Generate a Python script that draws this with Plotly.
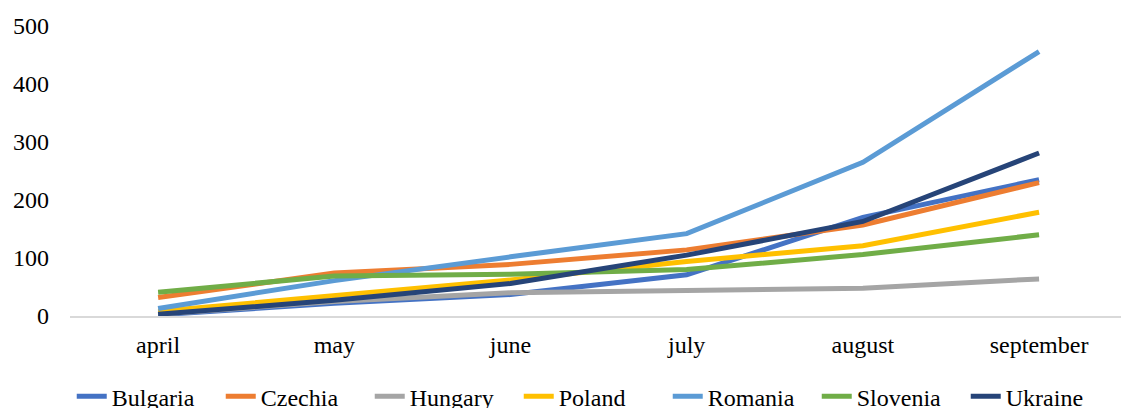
import plotly.graph_objects as go

months = ["april", "may", "june", "july", "august", "september"]
bulgaria = [2, 22, 37, 71, 170, 235]
czechia = [32, 74, 89, 114, 157, 230]
hungary = [3, 25, 40, 43, 48, 64]
poland = [8, 34, 62, 94, 121, 179]
romania = [13, 61, 102, 142, 265, 456]
slovenia = [41, 69, 72, 80, 106, 140]
ukraine = [3, 27, 56, 105, 163, 281]

series = [
    ("Bulgaria", bulgaria, "#4472C4"),
    ("Czechia", czechia, "#ED7D31"),
    ("Hungary", hungary, "#A5A5A5"),
    ("Poland", poland, "#FFC000"),
    ("Romania", romania, "#5B9BD5"),
    ("Slovenia", slovenia, "#70AD47"),
    ("Ukraine", ukraine, "#264478"),
]

fig = go.Figure()
for name, vals, col in series:
    fig.add_trace(go.Scatter(x=months, y=vals, name=name, mode="lines",
                             line=dict(color=col, width=5)))

SERIF = "Liberation Serif"
FS = 24
fig.update_layout(
    width=1121, height=408,
    margin=dict(l=70, r=0, t=26, b=92, autoexpand=False),
    paper_bgcolor="white", plot_bgcolor="white",
    font=dict(family=SERIF, size=FS, color="#000000"),
    showlegend=True,
    legend=dict(orientation="h", xref="container", yref="container",
                x=0.064, xanchor="left", y=0.083, yanchor="top",
                font=dict(family=SERIF, size=FS, color="#000000"),
                entrywidth=104, entrywidthmode="pixels",
                tracegroupgap=0, bgcolor="rgba(0,0,0,0)"),
    xaxis=dict(type="category", range=[-0.5, 5.465], showgrid=False,
               showline=True, linecolor="#D9D9D9", linewidth=2,
               ticks="", tickfont=dict(family=SERIF, size=FS, color="#000000"),
               ticklabelstandoff=6),
    yaxis=dict(range=[0, 500], tickvals=[0, 100, 200, 300, 400, 500],
               showgrid=False, zeroline=False, showline=False,
               ticks="", tickfont=dict(family=SERIF, size=FS, color="#000000"),
               ticklabelstandoff=20),
)

fig.write_html("out.html")
